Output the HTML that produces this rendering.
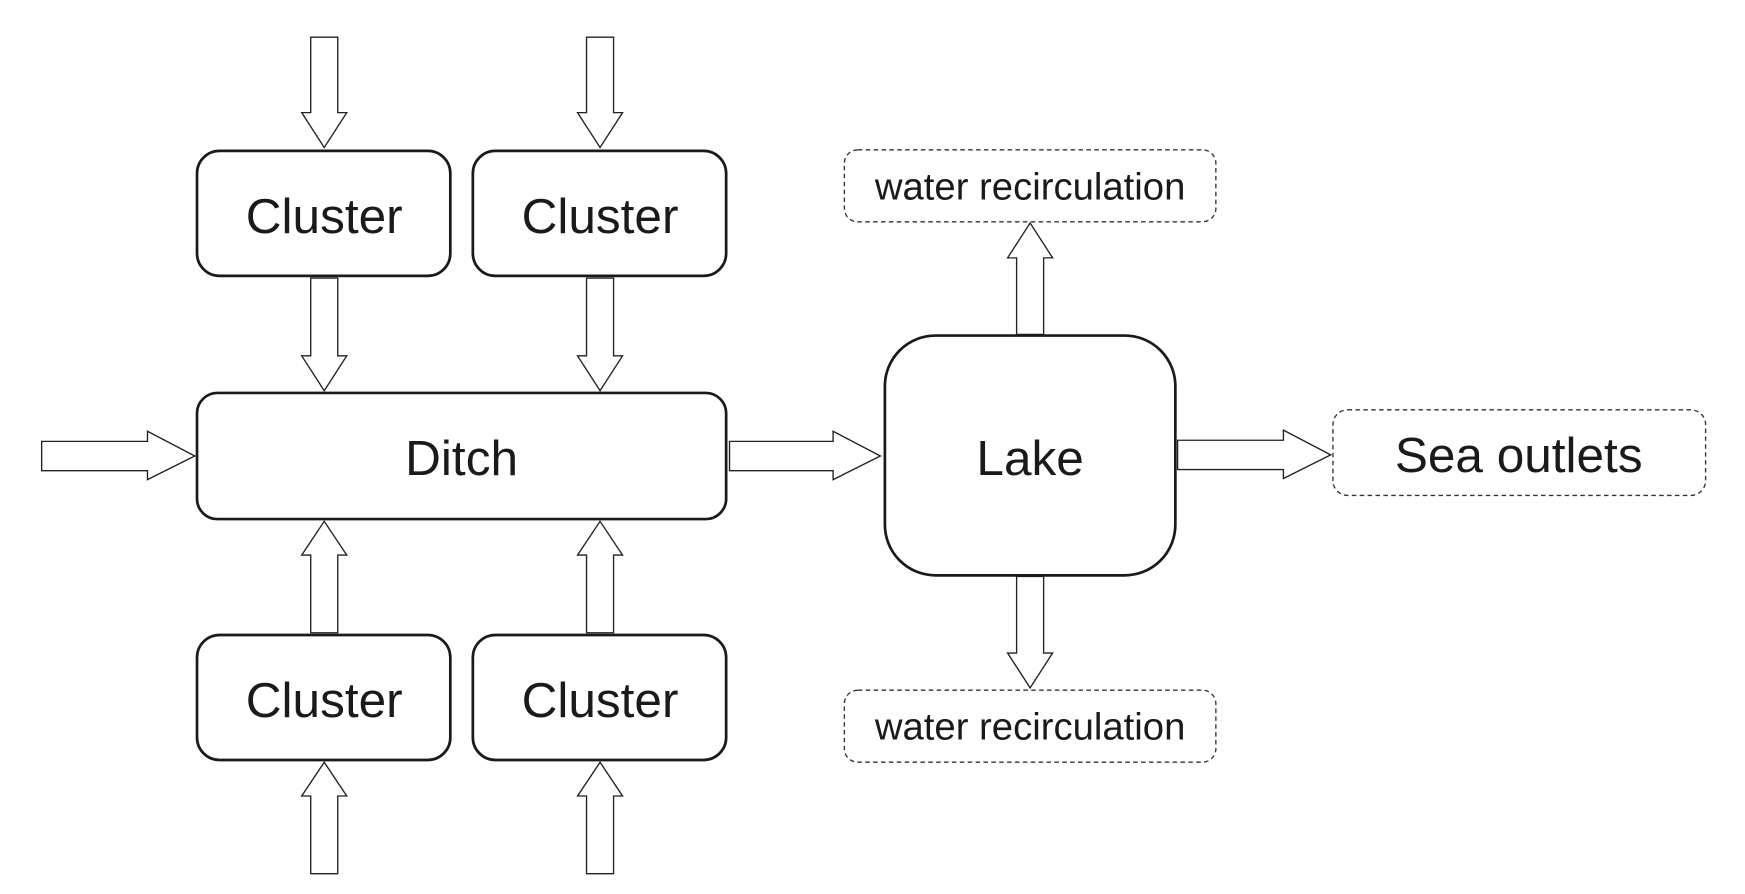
<!DOCTYPE html>
<html><head><meta charset="utf-8"><style>
html,body{margin:0;padding:0;background:#fff;}
svg{display:block;}
text{font-family:"Liberation Sans",sans-serif;fill:#1a1a1a;text-anchor:middle;}
</style></head><body>
<svg width="1745" height="894" viewBox="0 0 1550 794" xmlns="http://www.w3.org/2000/svg">
<g fill="#fff" stroke="#222" stroke-width="1.2">
<!-- top inputs -->
<polygon points="276,33 300,33 300,100 308,100 288,131 268,100 276,100"/>
<polygon points="521,33 545,33 545,100 553,100 533,131 513,100 521,100"/>
<!-- cluster to ditch -->
<polygon points="276,247 300,247 300,316 308,316 288,347 268,316 276,316"/>
<polygon points="521,247 545,247 545,316 553,316 533,347 513,316 521,316"/>
<!-- bottom clusters up to ditch -->
<polygon points="276,562 300,562 300,493 308,493 288,463 268,493 276,493"/>
<polygon points="521,562 545,562 545,493 553,493 533,463 513,493 521,493"/>
<!-- bottom inputs -->
<polygon points="276,776 300,776 300,707 308,707 288,677 268,707 276,707"/>
<polygon points="521,776 545,776 545,707 553,707 533,677 513,707 521,707"/>
<!-- left input -->
<polygon points="37,392 131,392 131,383 173,405 131,426 131,418 37,418"/>
<!-- ditch to lake -->
<polygon points="648,392 740,392 740,383 782,405 740,426 740,418 648,418"/>
<!-- lake to sea -->
<polygon points="1046,391 1140,391 1140,382 1182,404 1140,425 1140,417 1046,417"/>
<!-- lake up -->
<polygon points="903,297 927,297 927,229 935,229 915,198 895,229 903,229"/>
<!-- lake down -->
<polygon points="903,512 927,512 927,580 935,580 915,611 895,580 903,580"/>
</g>
<g fill="#fff" stroke="#1a1a1a" stroke-width="2.4">
<rect x="175" y="134" width="225" height="111" rx="20"/>
<rect x="420" y="134" width="225" height="111" rx="20"/>
<rect x="175" y="564" width="225" height="111" rx="20"/>
<rect x="420" y="564" width="225" height="111" rx="20"/>
<rect x="175" y="349" width="470" height="112" rx="18"/>
<rect x="786" y="298" width="258" height="213" rx="45"/>
</g>
<g fill="#fff" stroke="#333" stroke-width="1.2" stroke-dasharray="4,3">
<rect x="750" y="133" width="330" height="64" rx="12"/>
<rect x="750" y="613" width="330" height="64" rx="12"/>
<rect x="1184" y="364" width="331" height="76" rx="13"/>
</g>
<text x="288" y="207" font-size="44">Cluster</text>
<text x="533" y="207" font-size="44">Cluster</text>
<text x="288" y="637" font-size="44">Cluster</text>
<text x="533" y="637" font-size="44">Cluster</text>
<text x="410" y="422" font-size="44">Ditch</text>
<text x="915" y="422" font-size="44">Lake</text>
<text x="1349" y="419" font-size="44">Sea outlets</text>
<text x="915" y="177" font-size="34">water recirculation</text>
<text x="915" y="657" font-size="34">water recirculation</text>
</svg>
</body></html>
